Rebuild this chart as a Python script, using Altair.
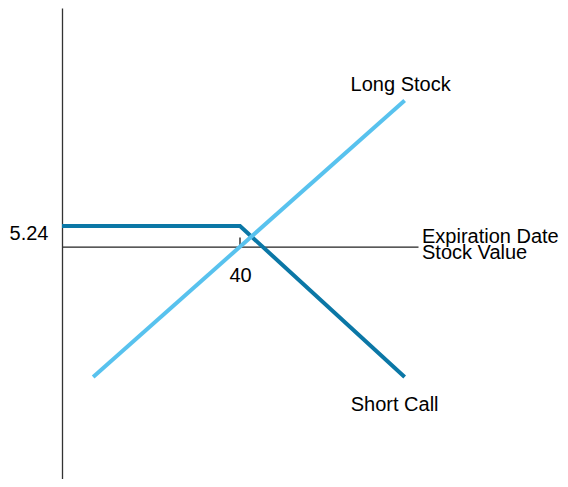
import altair as alt
import pandas as pd

# ---- data ----
long_price = [7, 77]
long_profit = [-33, 37]
short_price = [0, 40, 77]
short_profit = [5.24, 5.24, -33]
strike = 40
premium = 5.24
x_ticks = [40]
y_ticks = [5.24]

FONT = "Liberation Sans"
FS = 20
DARK = "#0b77a6"
LIGHT = "#58c2ee"

long_df = pd.DataFrame({"price": long_price, "profit": long_profit})
short_df = pd.DataFrame({"price": short_price, "profit": short_profit})

Y_TOP = 60.43
Y_BOT = -58.81
H = 471
W = 356
xscale = alt.Scale(domain=[0, 80], nice=False, zero=False)
yscale = alt.Scale(domain=[Y_BOT, Y_TOP], nice=False, zero=False)

y0_px = Y_TOP / (Y_TOP - Y_BOT) * H

x_enc = alt.X(
    "price:Q",
    scale=xscale,
    axis=alt.Axis(
        title=None, values=x_ticks, format="d", grid=False, ticks=False, tickSize=0,
        domainColor="#222222", domainWidth=1.3, offset=-(H - y0_px),
        labelFont=FONT, labelFontSize=FS, labelColor="#000000", labelPadding=35,
        labelBaseline="alphabetic",
    ),
)
y_enc = alt.Y(
    "profit:Q",
    scale=yscale,
    axis=alt.Axis(
        title=None, values=y_ticks, format=".2f", grid=False, ticks=False, tickSize=0,
        domainColor="#333333", domainWidth=1.3,
        labelFont=FONT, labelFontSize=FS, labelColor="#000000", labelPadding=14,
        labelOffset=7,
    ),
)

short_line = alt.Chart(short_df).mark_line(color=DARK, strokeWidth=4).encode(
    x=x_enc, y=y_enc, order=alt.Order("price:Q")
)
long_line = alt.Chart(long_df).mark_line(color=LIGHT, strokeWidth=4).encode(
    x=alt.X("price:Q", scale=xscale), y=alt.Y("profit:Q", scale=yscale)
)

tick = alt.Chart(pd.DataFrame({"price": [strike]})).mark_rule(
    color="#000000", strokeWidth=1.2
).encode(
    x=alt.X("price:Q", scale=xscale),
    y=alt.datum(0, scale=yscale),
    y2=alt.datum(2.3),
)

def label(text, xv, yv, dx, dy, align="center"):
    return alt.Chart(pd.DataFrame({"price": [xv], "profit": [yv], "t": [text]})).mark_text(
        font=FONT, fontSize=FS, color="#000000", align=align, baseline="alphabetic", dx=dx, dy=dy
    ).encode(
        x=alt.X("price:Q", scale=xscale),
        y=alt.Y("profit:Q", scale=yscale),
        text="t:N",
    )

lab_long = label("Long Stock", long_price[-1], long_profit[-1], -4, -10)
lab_short = label("Short Call", short_price[-1], short_profit[-1], -10, 33.5)
lab_exp1 = label("Expiration Date", 80, 0, 4, -3.4, align="left")
lab_exp2 = label("Stock Value", 80, 0, 4, 12.6, align="left")

chart = alt.layer(
    short_line, tick, long_line, lab_long, lab_short, lab_exp1, lab_exp2
).properties(
    width=W, height=H,
    autosize=alt.AutoSizeParams(type="none"),
    padding={"left": 54, "top": 0, "right": 142, "bottom": 0},
).configure_view(stroke=None)

chart.save("out.html", embed_options={"renderer": "svg", "actions": False})
